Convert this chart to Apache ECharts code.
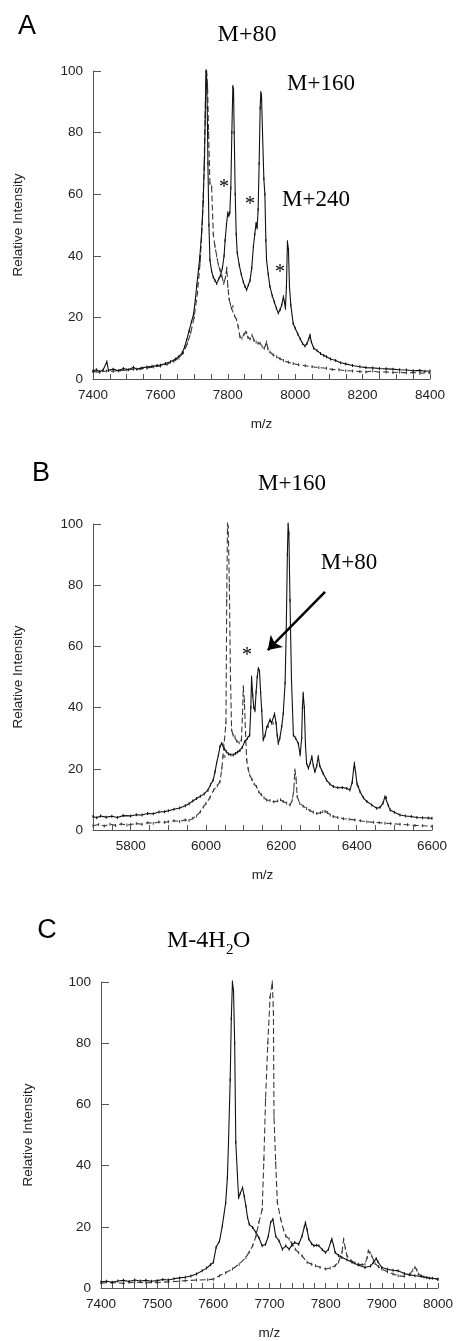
<!DOCTYPE html>
<html><head><meta charset="utf-8">
<script src="https://cdn.jsdelivr.net/npm/echarts@6/dist/echarts.min.js"></script>
<style>html,body{margin:0;padding:0;background:#fff}#c{width:456px;height:1341px}</style>
</head><body><div id="c"></div>
<script>
// ---------- data: [m/z, relative intensity] ----------
const aSolid = [[7400,2.6],[7410,3.0],[7420,2.4],[7430,2.9],[7441,5.6],[7446,2.8],[7460,3.2],[7475,2.7],[7490,3.4],[7505,3.0],[7520,3.8],[7530,3.2],[7545,3.6],[7560,3.9],[7575,4.1],[7590,4.4],[7600,4.5],[7615,5.0],[7630,5.6],[7645,6.5],[7655,7.3],[7665,8.6],[7672,10.4],[7678,12.7],[7685,15.5],[7692,18.5],[7698,20.8],[7704,26.0],[7708,30.5],[7713,35.5],[7717,39.7],[7722,47],[7727,57.6],[7731,72],[7733,85],[7735,100],[7737,99],[7739,88],[7741,70],[7744,50],[7747,38.6],[7752,35],[7757,33],[7762,32],[7767,31],[7773,32.5],[7778,33.5],[7784,36],[7789,40],[7792,45],[7796,50],[7800,54],[7803,53],[7806,54],[7809,62],[7812,80],[7815,95],[7817,94],[7819,80],[7822,60],[7825,47],[7828,41],[7834,37],[7840,34],[7846,31.5],[7851,30],[7856,29],[7861,30.5],[7866,32],[7871,36],[7876,43],[7880,47],[7884,50.6],[7887,49],[7890,55],[7893,70],[7896,88],[7898,93],[7900,92],[7903,80],[7907,65],[7910,60],[7913,45],[7915,38.6],[7920,34],[7925,30],[7932,27],[7938,25],[7944,23],[7950,21.4],[7955,22.5],[7960,24],[7965,26.7],[7968,25],[7971,23],[7974,30],[7977,44.6],[7980,42],[7983,30],[7987,24],[7994,18],[8000,16.5],[8008,14.5],[8015,13],[8022,11.5],[8029,10.7],[8035,11.5],[8040,13],[8044,14.3],[8048,12],[8055,10],[8065,9.2],[8075,8.3],[8085,7.6],[8093,7.2],[8105,6.5],[8120,6.0],[8135,5.3],[8150,4.9],[8170,4.4],[8192,4.0],[8210,3.7],[8230,3.6],[8250,3.4],[8270,3.3],[8290,3.2],[8310,3.0],[8330,2.9],[8350,2.7],[8370,2.8],[8385,2.5],[8400,2.6]];
const aDashed = [[7400,2.4],[7420,2.2],[7440,2.6],[7460,2.5],[7480,2.8],[7500,2.9],[7520,3.2],[7540,3.3],[7560,3.6],[7580,3.9],[7600,4.2],[7620,4.8],[7640,5.8],[7655,6.8],[7668,8.5],[7680,11.5],[7690,15],[7700,20],[7710,28],[7718,38],[7725,52],[7730,70],[7734,92],[7737,100],[7740,95],[7743,80],[7747,63.5],[7752,62.4],[7757,47],[7762,43],[7767,40],[7772,37],[7777,35.4],[7782,33.5],[7788,31],[7793,33],[7797,36],[7800,30],[7804,26],[7808,24],[7811,23],[7815,23.5],[7820,20.5],[7826,19.2],[7831,17],[7836,13.7],[7842,13.2],[7848,14.5],[7853,15.2],[7856,15],[7860,13.5],[7866,13],[7872,14.2],[7878,12.5],[7884,12],[7890,11.6],[7896,11.6],[7902,10.5],[7908,10],[7912,11],[7915,12],[7919,9.8],[7925,8.8],[7935,7.8],[7945,7.2],[7955,6.6],[7965,6.0],[7980,5.4],[7994,5.0],[8010,4.6],[8030,4.3],[8050,4.0],[8070,3.7],[8093,3.5],[8110,3.1],[8130,3.0],[8150,2.7],[8170,2.6],[8192,2.4],[8210,2.3],[8230,2.6],[8250,2.2],[8270,2.3],[8290,2.1],[8310,2.2],[8330,2.0],[8350,2.1],[8370,1.9],[8400,2.0]];
const bSolid = [[5700,4.4],[5710,4.0],[5720,4.6],[5735,4.2],[5750,4.5],[5765,4.1],[5780,4.7],[5800,4.6],[5815,5.0],[5830,4.9],[5845,5.4],[5860,5.3],[5875,5.9],[5890,6.0],[5900,6.3],[5915,6.8],[5930,7.2],[5945,7.9],[5955,8.6],[5965,9.5],[5975,10.3],[5985,11.0],[5995,11.8],[6005,13.0],[6012,14.8],[6019,16.3],[6024,19.0],[6028,21.8],[6033,24.5],[6037,27.2],[6041,28.3],[6045,28.0],[6049,26.5],[6054,25.6],[6060,24.8],[6066,24.6],[6072,24.5],[6078,25.0],[6084,25.5],[6090,26.0],[6096,27.0],[6103,28.9],[6110,30],[6116,31],[6119,40],[6121,50],[6124,44],[6127,40],[6130,39],[6133,45],[6136,50],[6139,52.8],[6142,52],[6145,45],[6148,39],[6152,29.4],[6157,31],[6161,33.5],[6165,33.8],[6170,36],[6174,35],[6178,34.9],[6182,38],[6186,35],[6189,31],[6192,28.3],[6196,30],[6201,33.8],[6205,38],[6210,48],[6213,65],[6216,90],[6218,100],[6220,97],[6223,75],[6227,49],[6232,31],[6238,30],[6245,28.3],[6250,24.5],[6254,30],[6256,40],[6258,44.7],[6261,40],[6264,28],[6267,21.8],[6272,20.2],[6277,22],[6281,24],[6285,21],[6289,19],[6294,21],[6298,24],[6302,21],[6307,19.5],[6311,18.5],[6320,16.3],[6329,15],[6338,14.2],[6350,13.8],[6362,13.9],[6374,13.6],[6382,13.1],[6388,15.5],[6392,20],[6394,21.8],[6397,19],[6401,15],[6404,14.2],[6409,12.5],[6418,10.5],[6427,9.3],[6440,8.2],[6453,7.1],[6462,7.4],[6470,8.8],[6475,10.9],[6479,10.5],[6484,8],[6489,6.5],[6500,5.8],[6515,4.9],[6530,4.6],[6545,4.4],[6560,4.1],[6575,4.0],[6590,3.9],[6600,3.8]];
const bDashed = [[5700,1.4],[5715,1.8],[5730,1.3],[5745,1.9],[5760,1.5],[5775,2.0],[5790,1.6],[5800,1.8],[5815,2.1],[5830,1.9],[5845,2.4],[5860,2.2],[5875,2.6],[5890,2.5],[5900,2.7],[5915,3.0],[5930,2.8],[5945,3.3],[5955,3.1],[5965,3.8],[5975,4.6],[5985,6.0],[5993,7.5],[6000,8.7],[6010,10.5],[6020,13],[6030,14.5],[6037,15.8],[6042,20],[6045,24],[6050,24],[6053,35],[6055,75],[6057,100],[6059,99],[6062,80],[6065,50],[6068,32.7],[6072,31],[6077,30.5],[6082,29],[6088,28.5],[6094,29.4],[6097,38],[6099,46.8],[6102,42],[6105,31.7],[6108,22.9],[6112,20],[6116,18],[6122,16.5],[6128,15],[6134,14.2],[6140,12.5],[6147,11.5],[6154,10.5],[6161,9.8],[6170,9.6],[6180,9.2],[6190,9.5],[6198,9.9],[6205,9.3],[6214,8.8],[6223,8.2],[6229,9.8],[6233,13],[6236,19.6],[6239,17],[6242,11],[6249,8.7],[6258,7.8],[6267,7.0],[6276,6.4],[6285,5.8],[6294,5.4],[6304,5.6],[6310,6.0],[6316,6.1],[6322,5.7],[6330,4.9],[6338,4.4],[6350,4.1],[6365,3.7],[6380,3.5],[6395,3.3],[6410,3.0],[6427,2.7],[6445,2.5],[6460,2.4],[6475,2.2],[6490,2.1],[6515,1.9],[6535,1.7],[6555,1.5],[6575,1.4],[6600,1.2]];
const cSolid = [[7400,2.0],[7410,2.2],[7420,1.9],[7430,2.3],[7440,2.5],[7450,2.1],[7460,2.6],[7470,2.3],[7480,2.5],[7490,2.2],[7500,2.4],[7510,2.8],[7520,2.6],[7530,3.0],[7540,3.3],[7550,3.5],[7560,3.9],[7570,4.6],[7580,5.6],[7588,6.5],[7595,7.6],[7600,8.4],[7605,13.3],[7611,15.4],[7616,20.3],[7622,27.9],[7625,36],[7627,47.5],[7630,68],[7632,88],[7634,100],[7636,97],[7638,80],[7640,47.6],[7643,36.6],[7645,29.5],[7648,31],[7652,32.8],[7655,30],[7658,26.8],[7661,23],[7664,20.8],[7670,19.8],[7676,18.1],[7681,16.5],[7687,13.8],[7693,14.3],[7698,17],[7702,21.4],[7706,22.5],[7711,17],[7717,15.4],[7723,12.7],[7729,13.8],[7735,12.7],[7740,14.0],[7745,14.9],[7752,14.3],[7758,17],[7762,20],[7764,21.4],[7767,19],[7770,16],[7775,14.5],[7779,13.8],[7784,14],[7788,13.8],[7794,12.5],[7800,11.6],[7805,12.7],[7809,15],[7811,16],[7814,14],[7817,11.6],[7823,10.6],[7829,10],[7838,9.2],[7847,8.4],[7858,7.5],[7870,6.7],[7880,7.2],[7885,8.4],[7890,9.6],[7893,8.6],[7900,6.7],[7910,6.1],[7920,5.8],[7929,5.6],[7940,4.7],[7950,4.3],[7959,4.0],[7970,3.8],[7980,3.4],[7990,3.2],[8000,2.9]];
const cDashed = [[7400,1.6],[7420,1.8],[7440,1.5],[7460,1.9],[7480,1.7],[7500,1.8],[7520,2.0],[7540,2.2],[7550,2.4],[7570,2.6],[7590,2.7],[7600,2.9],[7611,4.0],[7622,5.0],[7634,6.2],[7646,7.8],[7658,10.0],[7664,11.8],[7670,13.8],[7676,17],[7681,21.4],[7687,25.7],[7690,42],[7693,61.6],[7697,80],[7701,95],[7705,100],[7707,90],[7708,56],[7711,41],[7714,28],[7720,22.5],[7725,19],[7729,17],[7735,16],[7740,14.5],[7746,12.7],[7752,11.5],[7758,10.5],[7767,8.4],[7775,7.8],[7782,7.3],[7790,6.8],[7800,6.2],[7808,6.5],[7817,7.3],[7823,8.5],[7829,11.6],[7832,16],[7835,13],[7838,10.5],[7845,9],[7852,8.2],[7858,7.8],[7865,7.6],[7870,7.8],[7874,10],[7876,12.2],[7879,11.5],[7882,10.5],[7888,8],[7894,7],[7900,6.2],[7910,5.3],[7920,4.6],[7929,4.0],[7940,3.8],[7950,4.5],[7955,5.8],[7959,6.7],[7962,6],[7965,4.6],[7975,3.6],[7985,3.2],[8000,2.9]];

// axis ranges / tick labels
const xRanges = [
  {min:7400, max:8400, interval:200, minor:4, labelEvery:200},
  {min:5700, max:6600, interval:100, minor:2, labelEvery:200, labelBase:5800},
  {min:7400, max:8000, interval:100, minor:5, labelEvery:100}
];
const yTicks = {min:0, max:100, interval:20};
const panelLetters = ['A','B','C'];
const yTitle = 'Relative Intensity';
const xTitle = 'm/z';

// ---------- chart ----------
const sans = '"Liberation Sans", Arial, sans-serif';
const serif = '"Liberation Serif", "Times New Roman", serif';
const axisColor = '#555';
const textColor = '#222';
const grids = [
  {left:93, top:71, width:337, height:308},
  {left:93, top:524, width:339, height:306},
  {left:101, top:982, width:339, height:307}
];
const yGaps = [68, 68, 66];

const xAxes = xRanges.map((r, i) => ({
  gridIndex:i, type:'value', min:r.min, max:r.max, interval:r.interval,
  axisLine:{show:true, onZero:false, lineStyle:{color:axisColor, width:1}},
  axisTick:{show:true, inside:true, length:5, lineStyle:{color:axisColor}},
  minorTick:{show:true, splitNumber:r.minor, length:5, lineStyle:{color:axisColor}},
  splitLine:{show:false}, minorSplitLine:{show:false},
  axisLabel:{margin:9, fontSize:13.5, color:textColor, fontFamily:sans,
    formatter:(v)=>{ const base = r.labelBase !== undefined ? r.labelBase : r.min; return ((v - base) % r.labelEvery === 0) ? String(v) : ''; }},
  name:xTitle, nameLocation:'middle', nameGap:38,
  nameTextStyle:{fontSize:13.5, color:textColor, fontFamily:sans}
}));
const yAxes = grids.map((g, i) => ({
  gridIndex:i, type:'value', min:yTicks.min, max:yTicks.max, interval:yTicks.interval,
  axisLine:{show:true, onZero:false, lineStyle:{color:axisColor, width:1}},
  axisTick:{show:true, inside:true, length:8, lineStyle:{color:axisColor}},
  splitLine:{show:false},
  axisLabel:{margin:10, fontSize:13.5, color:textColor, fontFamily:sans},
  name:yTitle, nameLocation:'middle', nameGap:yGaps[i],
  nameTextStyle:{fontSize:13.5, color:textColor, fontFamily:sans}
}));

function mk(data, i, dashed, extra) {
  const col = dashed ? '#3a3a3a' : '#111';
  return Object.assign({
    type:'line', xAxisIndex:i, yAxisIndex:i, data:data,
    showSymbol:true, showAllSymbol:true, symbol:'rect', symbolSize:[1,3],
    itemStyle:{color:col},
    animation:false, silent:true, z: dashed ? 2 : 3,
    lineStyle:{width:1.1, color:col, type: dashed ? [6,3] : 'solid'}
  }, extra || {});
}

const series = [
  mk(aDashed, 0, true), mk(aSolid, 0, false),
  mk(bDashed, 1, true),
  mk(bSolid, 1, false, {markLine:{silent:true, symbol:['none','arrow'], symbolSize:13, animation:false,
      label:{show:false}, lineStyle:{color:'#000', width:2.5, type:'solid'},
      data:[[{coord:[6316,77.8]},{coord:[6164,58.8]}]]}}),
  mk(cDashed, 2, true), mk(cSolid, 2, false)
];

function txt(x, y, text, font, size, align) {
  return {type:'text', x:x, y:y, silent:true,
    style:{text:text, fontFamily:font, fontSize:size, fill:'#000', align:align||'center', verticalAlign:'middle'}};
}
const graphics = [
  txt(27, 27, panelLetters[0], sans, 27),
  txt(41, 474, panelLetters[1], sans, 27),
  txt(47, 931, panelLetters[2], sans, 27),
  txt(247, 35, 'M+80', serif, 24),
  txt(321, 84, 'M+160', serif, 23),
  txt(316, 200, 'M+240', serif, 23),
  txt(224, 188, '*', serif, 20),
  txt(250, 205, '*', serif, 20),
  txt(280, 273, '*', serif, 20),
  txt(292, 484, 'M+160', serif, 23),
  txt(349, 563, 'M+80', serif, 23),
  txt(247, 656, '*', serif, 20),
  txt(167, 941, 'M-4H', serif, 24, 'left'),
  txt(226, 950, '2', serif, 15, 'left'),
  txt(233, 941, 'O', serif, 24, 'left')
];

const chart = echarts.init(document.getElementById('c'), null, {renderer:'canvas'});
chart.setOption({
  animation:false, backgroundColor:'#fff',
  grid: grids, xAxis: xAxes, yAxis: yAxes, series: series, graphic: graphics
});
</script></body></html>
